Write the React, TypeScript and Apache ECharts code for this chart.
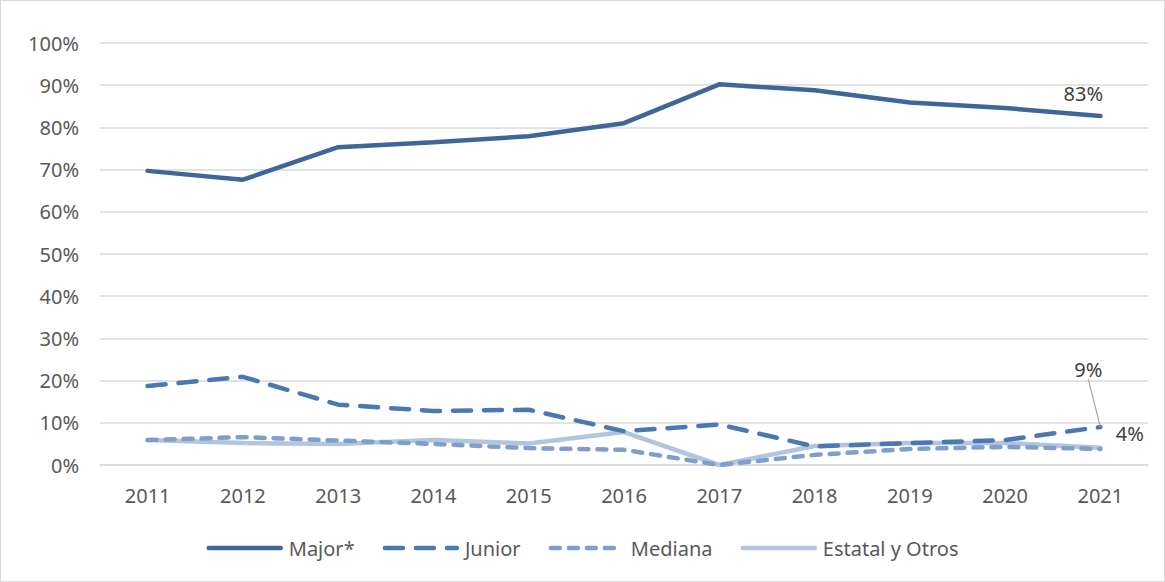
import React, { useEffect, useRef } from "react";
import * as echarts from "echarts";

const years = ["2011", "2012", "2013", "2014", "2015", "2016", "2017", "2018", "2019", "2020", "2021"];
const major = [69.7, 67.6, 75.3, 76.5, 77.9, 81.0, 90.2, 88.8, 85.9, 84.6, 82.7];
const junior = [18.7, 20.9, 14.3, 12.8, 13.1, 8.0, 9.6, 4.4, 5.2, 5.9, 9.0];
const mediana = [5.9, 6.6, 5.8, 5.0, 4.0, 3.6, 0.0, 2.4, 3.8, 4.3, 3.8];
const estatal = [5.9, 5.2, 5.0, 5.9, 5.1, 7.8, 0.0, 4.5, 5.2, 5.2, 4.1];

const FONT = "Noto Sans";
const TXT = "#595959";
const LBL = "#404040";

function withLastLabel(arr: number[], label: any) {
  return arr.map((v, i) =>
    i === arr.length - 1
      ? {
          value: v,
          symbol: "circle",
          symbolSize: 1,
          itemStyle: { color: "transparent", borderWidth: 0 },
          label: { show: true, ...label },
        }
      : v
  );
}

export default function App() {
  const ref = useRef<HTMLDivElement>(null);
  useEffect(() => {
    const chart = echarts.init(ref.current!, undefined, { renderer: "svg" });
    const fmt = (p: any) => Math.round(p.value) + "%";
    const lblBase = { formatter: fmt, color: LBL, fontSize: 20, fontFamily: FONT };
    chart.setOption({
      animation: false,
      textStyle: { fontFamily: FONT },
      grid: { left: 99, right: 16, top: 42, bottom: 116 },
      xAxis: {
        type: "category",
        data: years,
        boundaryGap: true,
        axisLine: { lineStyle: { color: "#d9d9d9", width: 1.5 } },
        axisTick: { show: false },
        axisLabel: { color: TXT, fontSize: 20, fontFamily: FONT, margin: 20 },
      },
      yAxis: {
        type: "value",
        min: 0,
        max: 100,
        interval: 10,
        axisLine: { show: false },
        axisTick: { show: false },
        splitLine: { lineStyle: { color: "#d9d9d9", width: 1.5 } },
        axisLabel: { formatter: "{value}%", color: TXT, fontSize: 20, fontFamily: FONT, margin: 21 },
      },
      legend: {
        top: 532,
        left: "center",
        itemWidth: 72,
        itemHeight: 3,
        itemGap: 28,
        itemStyle: { opacity: 0 },
        lineStyle: { width: 4.5 },
        textStyle: { color: TXT, fontSize: 20, fontFamily: FONT, padding: [0, 0, 0, 3] },
        data: ["Major*", "Junior", "Mediana", "Estatal y Otros"],
      },
      series: [
        {
          name: "Major*",
          type: "line",
          symbol: "none",
          z: 5,
          lineStyle: { color: "#3e6697", width: 4.5, cap: "round" },
          itemStyle: { color: "#3e6697" },
          data: withLastLabel(major, { ...lblBase, position: "top", offset: [-17, -7] }),
        },
        {
          name: "Junior",
          type: "line",
          symbol: "none",
          z: 4,
          lineStyle: { color: "#4a78b1", width: 4.5, type: [18, 13], cap: "round" },
          itemStyle: { color: "#4a78b1" },
          labelLine: { show: true, lineStyle: { color: "#a6a6a6", width: 1.2 } },
          labelLayout: { dx: -12, dy: -42 },
          data: withLastLabel(junior, { ...lblBase, position: "top" }),
        },
        {
          name: "Mediana",
          type: "line",
          symbol: "none",
          z: 3,
          lineStyle: { color: "#7f9fcb", width: 4.5, type: [9, 9], cap: "round" },
          itemStyle: { color: "#7f9fcb" },
          data: mediana,
        },
        {
          name: "Estatal y Otros",
          type: "line",
          symbol: "none",
          z: 2,
          lineStyle: { color: "#b3c4df", width: 4.5, cap: "round" },
          itemStyle: { color: "#b3c4df" },
          data: withLastLabel(estatal, { ...lblBase, position: "right", offset: [10, -14] }),
        },
      ],
    });
    return () => chart.dispose();
  }, []);
  return (
    <div
      style={{
        position: "absolute",
        left: 0,
        top: 0,
        width: 1163,
        height: 580,
        border: "1px solid #d9d9d9",
        background: "#fff",
      }}
    >
      <div ref={ref} style={{ width: 1163, height: 580 }} />
    </div>
  );
}
